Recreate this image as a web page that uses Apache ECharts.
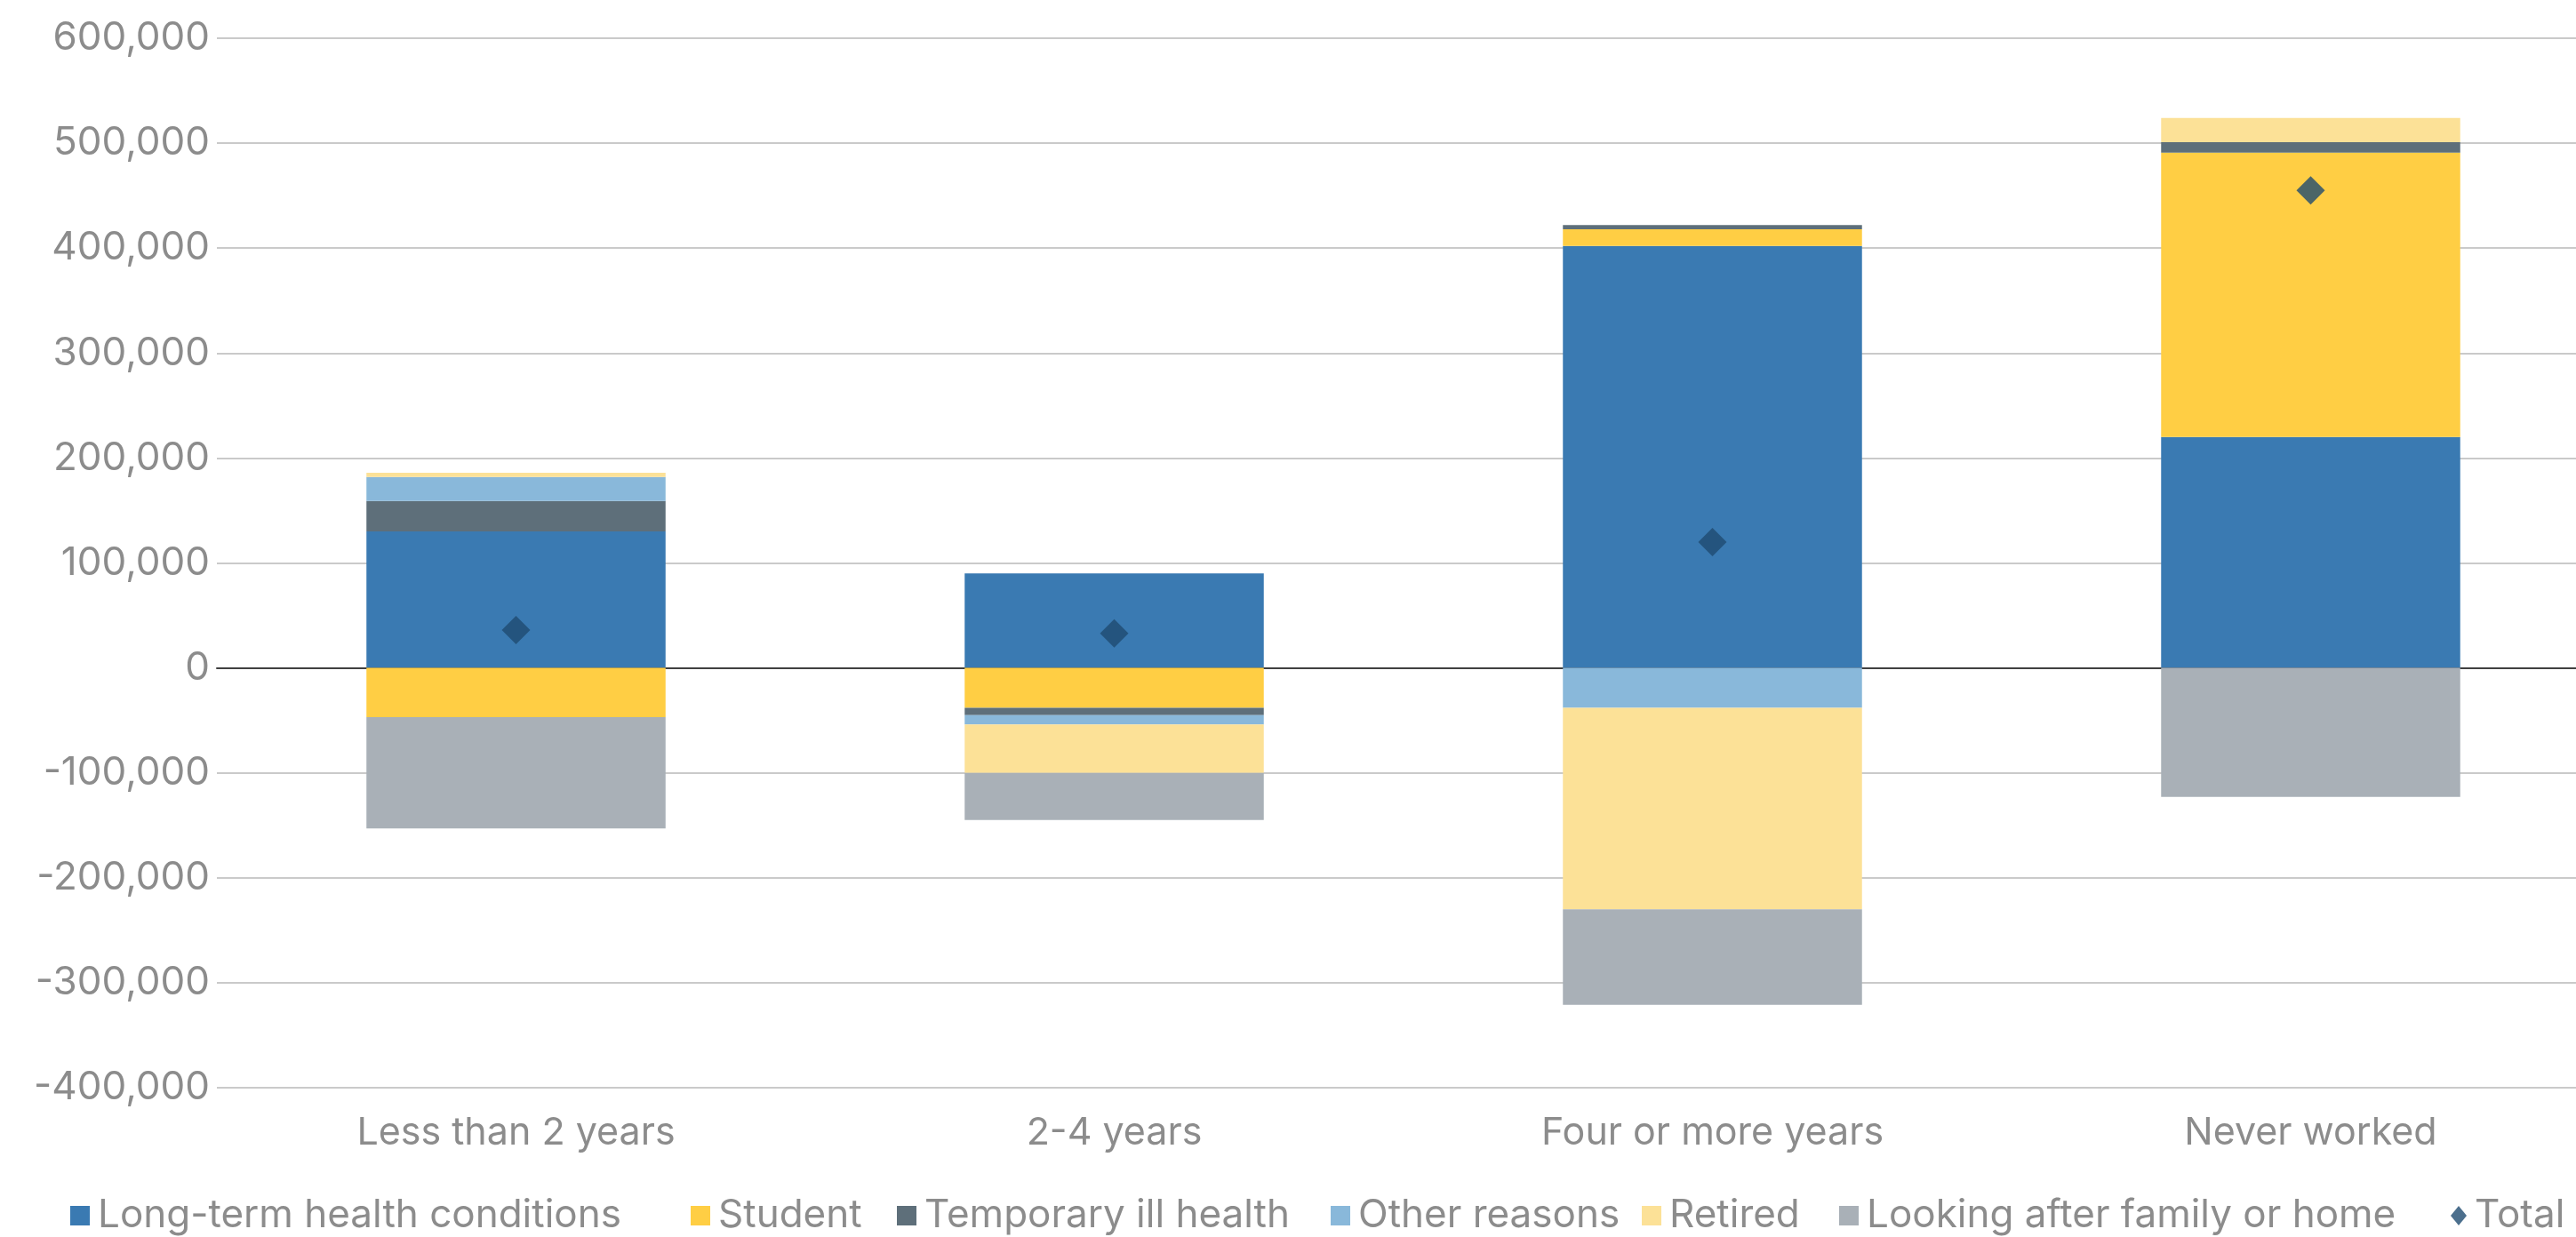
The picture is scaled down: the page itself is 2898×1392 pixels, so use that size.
<!DOCTYPE html>
<html>
<head>
<meta charset="utf-8">
<script src="https://cdn.jsdelivr.net/npm/echarts@6/dist/echarts.min.js"></script>
<style>
  html, body { margin: 0; padding: 0; background: #ffffff; overflow: hidden; }
  #chart { width: 2936px; height: 1392px; }
</style>
</head>
<body>
<div id="chart"></div>
<script>
// Change in economic inactivity by time since last worked, split by reason
const categories = ['Less than 2 years', '2-4 years', 'Four or more years', 'Never worked'];

const longTermHealth = [130000, 90000, 402000, 220000];
const student        = [-47000, -38000, 16000, 271000];
const temporaryIll   = [29000, -7000, 4000, 10000];
const otherReasons   = [23000, -9000, -38000, 0];
const retired        = [4000, -46000, -192000, 23000];
const lookingAfter   = [-106000, -45000, -91000, -123000];
const total          = [36000, 33000, 120000, 455000];

const yTicks = { min: -400000, max: 600000, step: 100000 };

const FONT = 'Inter, "Open Sans", sans-serif';
const TEXT_GREY = '#8C8C8C';

const barSeries = [
  { name: 'Long-term health conditions', data: longTermHealth, color: '#3A7AB2' },
  { name: 'Student', data: student, color: '#FFCE44' },
  { name: 'Temporary ill health', data: temporaryIll, color: '#5E6F7A' },
  { name: 'Other reasons', data: otherReasons, color: '#89B8DA' },
  { name: 'Retired', data: retired, color: '#FCE197' },
  { name: 'Looking after family or home', data: lookingAfter, color: '#A9B0B7' }
].map(s => ({
  name: s.name,
  type: 'bar',
  stack: 'reasons',
  barCategoryGap: '50%',
  data: s.data,
  itemStyle: { color: s.color },
  emphasis: { disabled: true }
}));

const totalSeries = {
  name: 'Total',
  type: 'scatter',
  data: total,
  symbol: 'diamond',
  symbolSize: 32,
  itemStyle: { color: '#1F4B70' },
  z: 10
};

// one legend block per entry so each sits at its own spot on the bottom row
const legendSpots = [
  ['Long-term health conditions', 74],
  ['Student', 772],
  ['Temporary ill health', 1004],
  ['Other reasons', 1492],
  ['Retired', 1842],
  ['Looking after family or home', 2064],
  ['Total', 2752]
];
const legends = legendSpots.map(([name, x]) => ({
  data: [name === 'Total' ? { name, icon: 'diamond' } : { name, icon: 'rect' }],
  left: x,
  top: 1341,
  itemWidth: name === 'Total' ? 18 : 22,
  itemHeight: 22,
  selectedMode: false,
  textStyle: { fontFamily: FONT, fontSize: 44, color: TEXT_GREY, padding: [0, 0, 0, 4] }
}));

const chart = echarts.init(document.getElementById('chart'), null, { renderer: 'canvas' });
chart.setOption({
  animation: false,
  backgroundColor: '#ffffff',
  grid: { left: 244, right: 0, top: 43, bottom: 168, containLabel: false },
  legend: legends,
  xAxis: {
    type: 'category',
    data: categories,
    axisTick: { show: false },
    axisLine: { show: true, onZero: true, lineStyle: { color: '#404040', width: 2 } },
    axisLabel: { fontFamily: FONT, fontSize: 43, color: TEXT_GREY, margin: 30, interval: 0 }
  },
  yAxis: {
    type: 'value',
    min: yTicks.min,
    max: yTicks.max,
    interval: yTicks.step,
    axisLine: { show: false },
    axisTick: { show: false },
    splitLine: { lineStyle: { color: '#CACACA', width: 2 } },
    axisLabel: {
      fontFamily: FONT,
      fontSize: 44,
      color: TEXT_GREY,
      margin: 8,
      formatter: v => v.toLocaleString('en-US')
    }
  },
  series: [...barSeries, totalSeries]
});
</script>
</body>
</html>
